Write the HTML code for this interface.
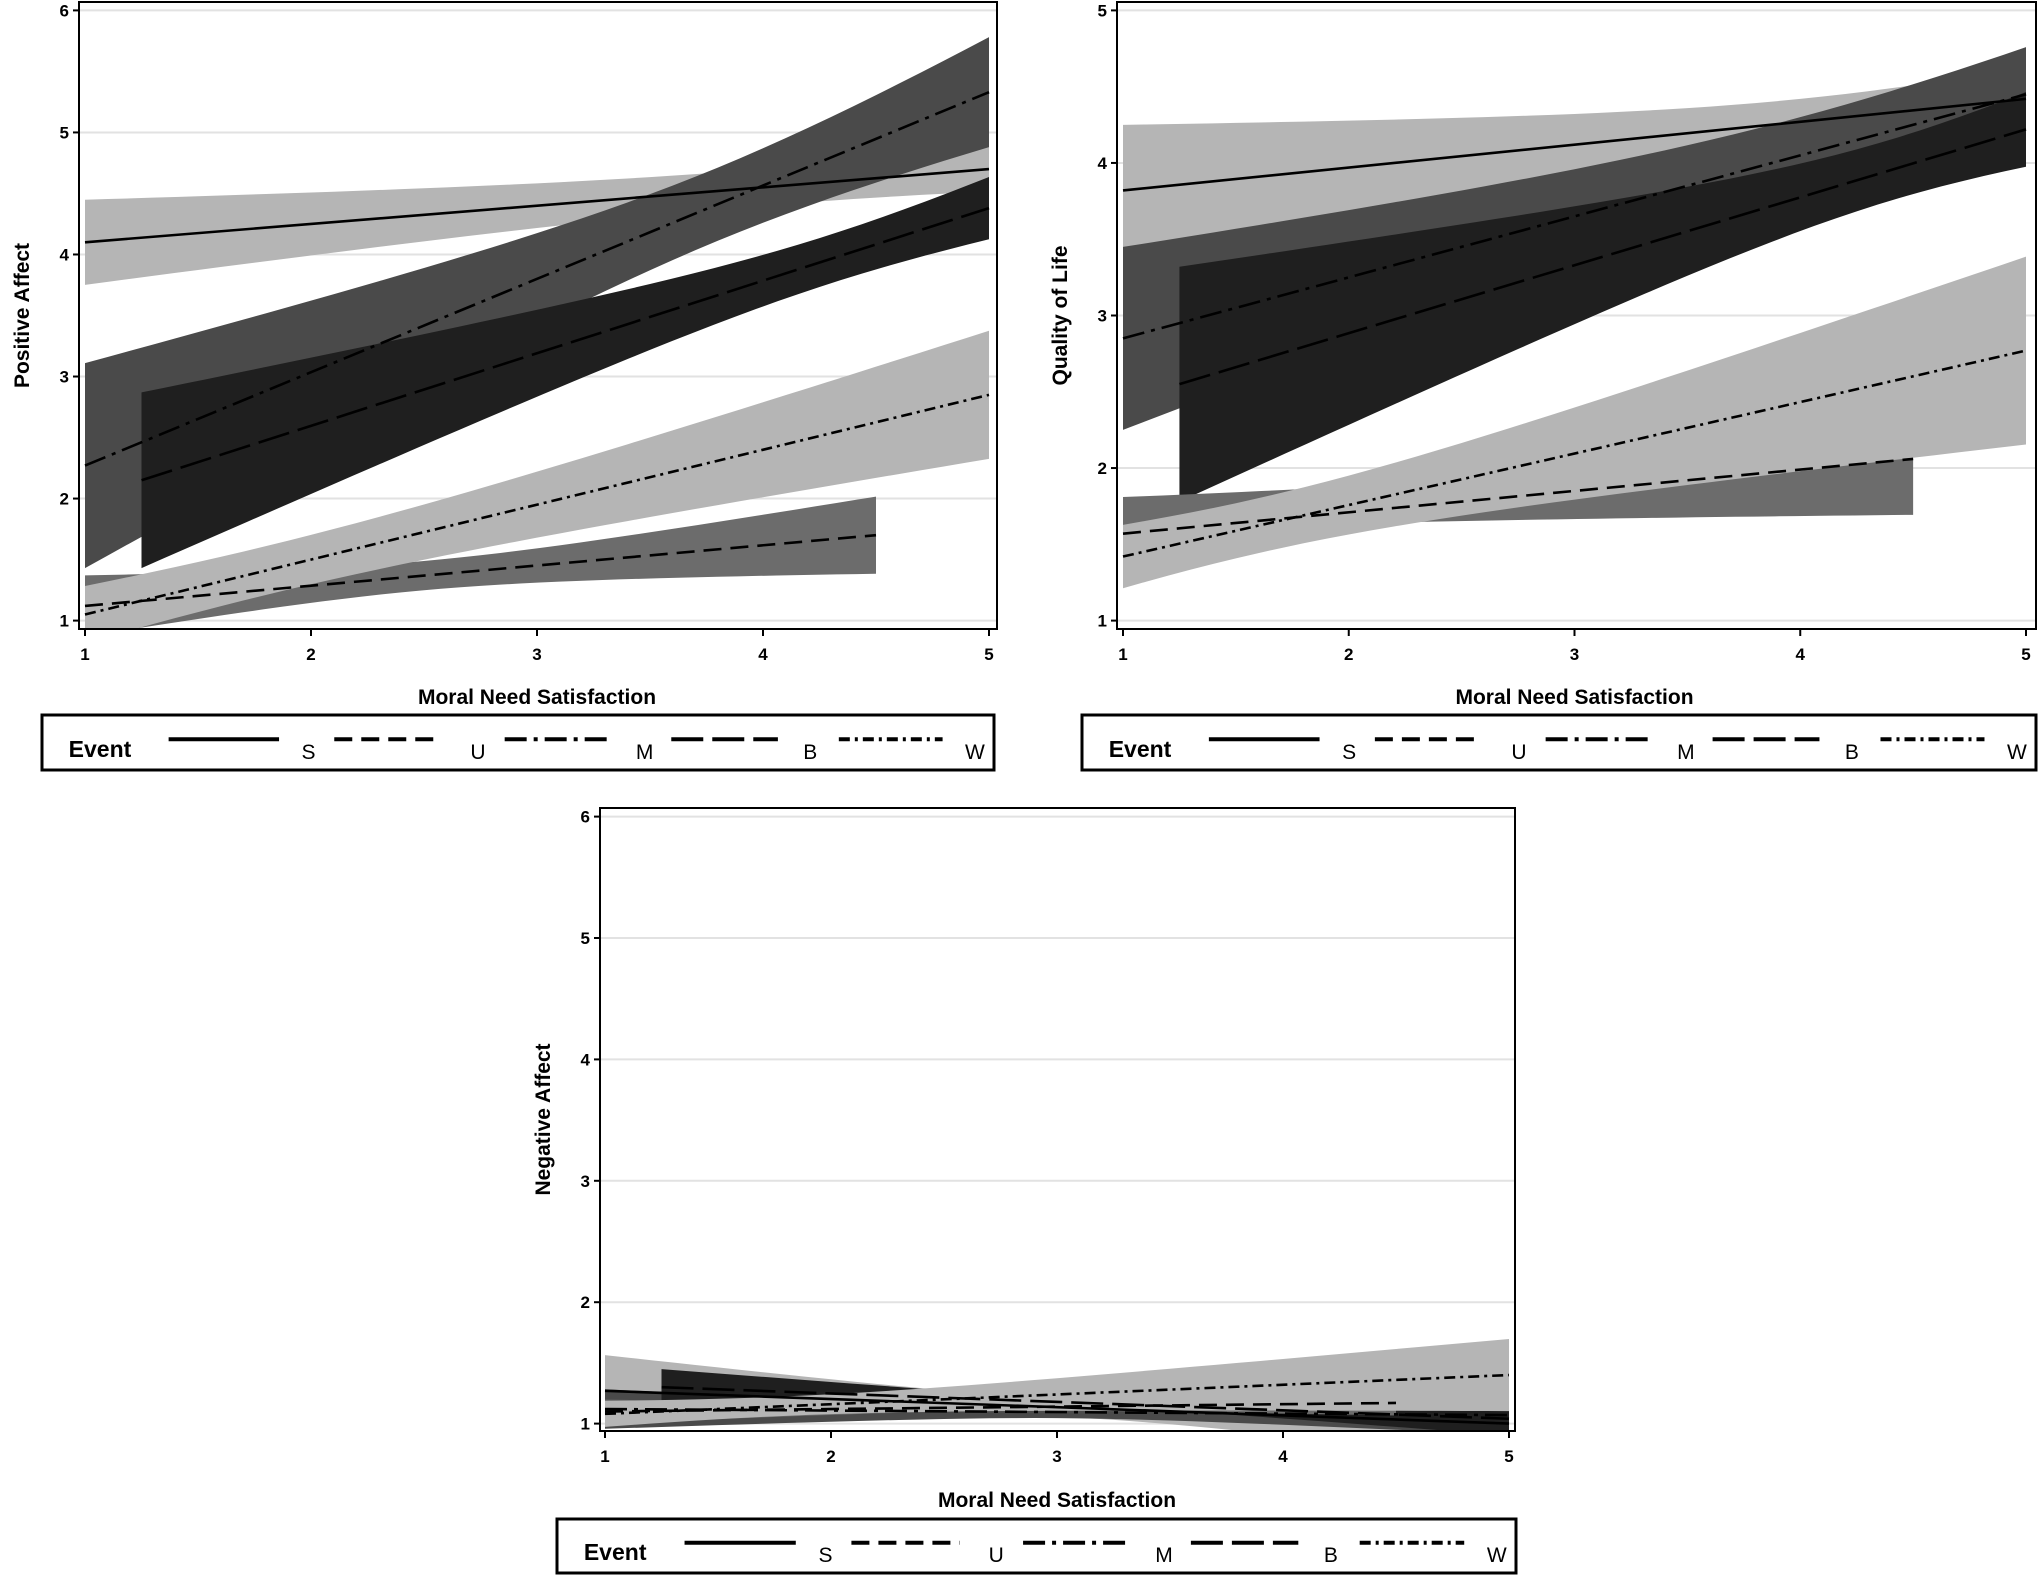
<!DOCTYPE html>
<html><head><meta charset="utf-8"><style>
html,body{margin:0;padding:0;background:#fff;}
svg{display:block;}
text{font-family:"Liberation Sans","DejaVu Sans",sans-serif;}
</style></head><body>
<svg id="s" width="2040" height="1578" xmlns="http://www.w3.org/2000/svg"></svg>
<script>
const S=document.getElementById('s');let out='';
const C={light:'#b5b5b5',med:'#6c6c6c',dark:'#4a4a4a',darkest:'#1f1f1f'};
const DASH={S:'',U:'18,9',M:'22,7,4,7',B:'32,9',W:'11,5,3,5'};
function plot(P){
 const X=v=>P.x1+(v-1)*(P.x5-P.x1)/4;
 const Y=v=>P.yb+(v-P.vb)*(P.yt-P.yb)/(P.vt-P.vb);
 out+=`<defs><clipPath id="c${P.id}"><rect x="${P.fl}" y="${P.ft}" width="${P.fr-P.fl}" height="${P.fb-P.ft}"/></clipPath></defs>`;
 for(const g of P.grid) out+=`<line x1="${P.fl}" x2="${P.fr}" y1="${Y(g)}" y2="${Y(g)}" stroke="#e2e2e2" stroke-width="2"/>`;
 out+=`<g clip-path="url(#c${P.id})">`;
 for(const s of P.series){
  const cx=s.bc||s.l;let up=[],lo=[];
  for(let i=0;i<=40;i++){const x=s.a+(s.b-s.a)*i/40;const c=cx[0]+(cx[1]-cx[0])*(x-s.a)/(s.b-s.a);
   const hw=Math.sqrt(s.h0*s.h0+s.k2*(x-s.xc)*(x-s.xc));up.push(X(x)+','+Y(c+hw));lo.unshift(X(x)+','+Y(c-hw));}
  out+=`<polygon points="${up.concat(lo).join(' ')}" fill="${C[s.col]}"/>`;
 }
 for(const s of P.series){
  out+=`<line x1="${X(s.a)}" y1="${Y(s.l[0])}" x2="${X(s.b)}" y2="${Y(s.l[1])}" stroke="#000" stroke-width="2.6" ${DASH[s.n]?'stroke-dasharray="'+DASH[s.n]+'"':''}/>`;
 }
 out+='</g>';
 out+=`<rect x="${P.fl}" y="${P.ft}" width="${P.fr-P.fl}" height="${P.fb-P.ft}" fill="none" stroke="#000" stroke-width="2"/>`;
 for(let v=1;v<=5;v++){out+=`<line x1="${X(v)}" x2="${X(v)}" y1="${P.fb}" y2="${P.fb+7}" stroke="#000" stroke-width="2"/><text x="${X(v)}" y="${P.fb+31}" font-size="17" font-weight="bold" text-anchor="middle">${v}</text>`;}
 for(const v of P.yt_){out+=`<line x1="${P.fl-6}" x2="${P.fl}" y1="${Y(v)}" y2="${Y(v)}" stroke="#000" stroke-width="2"/><text x="${P.fl-10}" y="${Y(v)+6}" font-size="17" font-weight="bold" text-anchor="end">${v}</text>`;}
 out+=`<text x="${(P.x1+P.x5)/2}" y="${P.xl}" font-size="21" font-weight="bold" text-anchor="middle">Moral Need Satisfaction</text>`;
 const ym=(P.ft+P.fb)/2;
 out+=`<text transform="translate(${P.fl-50},${ym}) rotate(-90)" font-size="21" font-weight="bold" text-anchor="middle">${P.yl}</text>`;
 const L=P.lg[0],R=P.lg[1],T=P.lg[2],B=P.lg[3],W=R-L,fx=f=>L+f*W;
 out+=`<rect x="${L}" y="${T}" width="${W}" height="${B-T}" fill="none" stroke="#000" stroke-width="3"/>`;
 out+=`<text x="${fx(0.028)}" y="${B-13}" font-size="23" font-weight="bold">Event</text>`;
 const items=[['S',.133,.249,.28],['U',.307,.42,.458],['M',.486,.598,.633],['B',.661,.773,.807],['W',.837,.946,.98]];
 for(const it of items){const ly=T+(B-T)*0.44;
  out+=`<line x1="${fx(it[1])}" x2="${fx(it[2])}" y1="${ly}" y2="${ly}" stroke="#000" stroke-width="4" ${DASH[it[0]]?'stroke-dasharray="'+DASH[it[0]]+'"':''}/>`;
  out+=`<text x="${fx(it[3])}" y="${B-11}" font-size="21" text-anchor="middle">${it[0]}</text>`;}
}
// Plot 1
plot({id:1,x1:85,x5:989,vb:1,yb:620.6,vt:6,yt:10.4,fl:79,fr:997,ft:2,fb:629,grid:[1,2,3,4,5,6],yt_:[1,2,3,4,5,6],xl:704,yl:'Positive Affect',lg:[42,994,715,770],
 series:[
 {n:'S',col:'light',a:1,b:5,l:[4.1,4.7],xc:4,h0:.15,k2:.011},
 {n:'M',col:'dark',a:1,b:5,l:[2.27,5.33],xc:3.8,h0:.3,k2:.0785},
 {n:'B',col:'darkest',a:1.25,b:5,l:[2.15,4.38],xc:4.3,h0:.2,k2:.0514},
 {n:'U',col:'med',a:1,b:4.5,l:[1.12,1.7],xc:2.5,h0:.12,k2:.0214},
 {n:'W',col:'light',a:1,b:5,l:[1.05,2.85],xc:1.8,h0:.2,k2:.023}]});
// Plot 2
plot({id:2,x1:1123,x5:2026,vb:1,yb:620.6,vt:5,yt:10.4,fl:1117,fr:2036,ft:2,fb:629,grid:[1,2,3,4,5],yt_:[1,2,3,4,5],xl:704,yl:'Quality of Life',lg:[1082,2036,715,770],
 series:[
 {n:'S',col:'light',a:1,b:5,l:[3.82,4.42],xc:4,h0:.15,k2:.018},
 {n:'M',col:'dark',a:1,b:5,l:[2.85,4.45],xc:4,h0:.25,k2:.033},
 {n:'B',col:'darkest',a:1.25,b:5,l:[2.55,4.22],xc:4.4,h0:.2,k2:.0557},
 {n:'U',col:'med',a:1,b:4.5,l:[1.57,2.06],bc:[1.7,1.9],xc:1,h0:.11,k2:.0025},
 {n:'W',col:'light',a:1,b:5,l:[1.42,2.77],xc:1.6,h0:.18,k2:.03}]});
// Plot 3
plot({id:3,x1:605,x5:1509,vb:1,yb:1423.6,vt:6,yt:816.6,fl:600,fr:1515,ft:808,fb:1431,grid:[1,2,3,4,5,6],yt_:[1,2,3,4,5,6],xl:1507,yl:'Negative Affect',lg:[557,1516,1519,1573],
 series:[
 {n:'S',col:'light',a:1,b:5,l:[1.27,1.0],xc:3,h0:.08,k2:.02},
 {n:'M',col:'dark',a:1,b:5,l:[1.12,1.07],xc:3,h0:.05,k2:.006},
 {n:'B',col:'darkest',a:1.25,b:5,l:[1.3,1.04],xc:3.2,h0:.03,k2:.0056},
 {n:'U',col:'med',a:1,b:4.5,l:[1.1,1.17],xc:2.7,h0:.03,k2:.003},
 {n:'W',col:'light',a:1,b:5,l:[1.08,1.4],xc:1.8,h0:.08,k2:.008}]});
S.innerHTML=out;
</script>
</body></html>
